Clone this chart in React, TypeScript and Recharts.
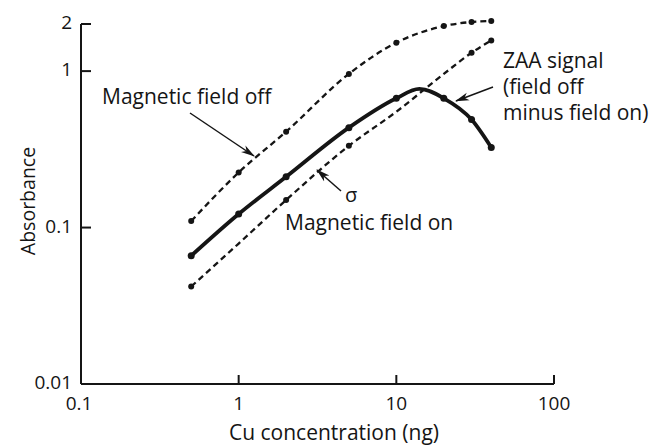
import React from 'react';
import { LineChart, Line, XAxis, YAxis, ReferenceLine } from 'recharts';

// Cu concentration (ng) at which the measurements were made
const concentrations = [0.5, 1, 2, 5, 10, 20, 30, 40];
// Absorbance, magnetic field off
const fieldOffAbs = [0.11, 0.225, 0.41, 0.96, 1.52, 1.94, 2.06, 2.09];
// Absorbance, magnetic field on
const fieldOnAbs = [0.042, 0.079, 0.15, 0.333, 0.55, 0.96, 1.31, 1.57];
// ZAA signal (field off minus field on), incl. the peak
const zaaConcentrations = [0.5, 1, 2, 5, 10, 14, 20, 30, 40];
const zaaAbs = [0.066, 0.122, 0.211, 0.435, 0.67, 0.77, 0.67, 0.49, 0.325];

const xTicks = [0.1, 1, 10, 100];
const yTicks = [0.01, 0.1, 1, 2];
const fieldOnHiddenMarkers = [1, 10, 20];

const fieldOffData = concentrations.map((x, i) => ({ x, y: fieldOffAbs[i] }));
const fieldOnData = concentrations.map((x, i) => ({ x, y: fieldOnAbs[i] }));
const zaaData = zaaConcentrations.map((x, i) => ({ x, y: zaaAbs[i] }));

const INK = '#151515';
const FONT = '"Open Sans", "DejaVu Sans", sans-serif';

const makeDot = (r: number, hidden: number[]) => (props: any) => {
  const { cx, cy, payload, index } = props;
  const show = concentrations.includes(payload.x) && !hidden.includes(payload.x);
  return <circle key={`dot-${index}`} cx={cx} cy={cy} r={show ? r : 0} fill={INK} />;
};

const YTick = (props: any) => {
  const { x, y, payload } = props;
  const v = payload.value;
  return (
    <g>
      {v !== 0.01 && <line x1={x} y1={y} x2={x + 10} y2={y} stroke={INK} strokeWidth={2} />}
      <text x={x - 9} y={y + 5} textAnchor="end" fontSize={19} fontFamily={FONT} fill={INK}>
        {String(v)}
      </text>
    </g>
  );
};

const XTick = (props: any) => {
  const { x, y, payload } = props;
  const v = payload.value;
  return (
    <g>
      {v !== 0.1 && <line x1={x} y1={y} x2={x} y2={y - 9} stroke={INK} strokeWidth={2} />}
      <text x={x - (v === 0.1 ? 2 : 0)} y={y + 26} textAnchor="middle" fontSize={19} fontFamily={FONT} fill={INK}>
        {String(v)}
      </text>
    </g>
  );
};

export default function App() {
  return (
    <div style={{ position: 'absolute', left: 0, top: 0, width: 654, height: 446, background: '#fff' }}>
      <LineChart
        width={654}
        height={446}
        margin={{ top: 20.7, right: 100, bottom: 2, left: 0 }}
        style={{ position: 'absolute', left: 0, top: 0 }}
      >
        <XAxis
          dataKey="x"
          type="number"
          scale="log"
          domain={[0.1, 100]}
          ticks={xTicks}
          height={60}
          tickSize={0}
          tickMargin={0}
          tickLine={false}
          axisLine={{ stroke: INK, strokeWidth: 2 }}
          tick={XTick}
          interval={0}
        />
        <YAxis
          type="number"
          scale="log"
          domain={[0.01, 2.1]}
          ticks={yTicks}
          width={81}
          tickSize={0}
          tickMargin={0}
          tickLine={false}
          axisLine={false}
          tick={YTick}
          interval={0}
        />
        <ReferenceLine
          segment={[{ x: 0.1, y: 0.01 }, { x: 0.1, y: 2 }]}
          stroke={INK}
          strokeWidth={2}
        />
        <Line
          data={fieldOffData}
          dataKey="y"
          type="monotone"
          stroke={INK}
          strokeWidth={2.3}
          strokeDasharray="6 4"
          dot={makeDot(3, [])}
          isAnimationActive={false}
        />
        <Line
          data={fieldOnData}
          dataKey="y"
          type="monotone"
          stroke={INK}
          strokeWidth={2.3}
          strokeDasharray="6 4"
          dot={makeDot(3, fieldOnHiddenMarkers)}
          isAnimationActive={false}
        />
        <Line
          data={zaaData}
          dataKey="y"
          type="monotone"
          stroke={INK}
          strokeWidth={3.8}
          dot={makeDot(3.5, [])}
          isAnimationActive={false}
        />
      </LineChart>
      <svg
        width={654}
        height={446}
        style={{ position: 'absolute', left: 0, top: 0, pointerEvents: 'none' }}
      >
        <defs>
          <marker id="ah" markerWidth="14" markerHeight="10" refX="13" refY="5" orient="auto" markerUnits="userSpaceOnUse">
            <path d="M0,1 L14,5 L0,9 L4,5 Z" fill={INK} />
          </marker>
        </defs>
        <g fontFamily={FONT} fill={INK}>
          <text x={35} y={201} fontSize={19.5} textAnchor="middle" transform="rotate(-90 35 201)">Absorbance</text>
          <text x={334} y={440} fontSize={21} textAnchor="middle">Cu concentration (ng)</text>
          <text x={102} y={104} fontSize={21}>Magnetic field off</text>
          <text x={503} y={68} fontSize={21}>ZAA signal</text>
          <text x={503} y={94} fontSize={21}>(field off</text>
          <text x={503} y={120} fontSize={21}>minus field on)</text>
          <text x={345} y={202} fontSize={20}>σ</text>
          <text x={285} y={230} fontSize={21}>Magnetic field on</text>
        </g>
        <line x1={341} y1={191} x2={317} y2={170} stroke={INK} strokeWidth={1.5} markerEnd="url(#ah)" />
        <line x1={190} y1={113} x2={254} y2={156} stroke={INK} strokeWidth={1.5} markerEnd="url(#ah)" />
        <line x1={493} y1={87} x2={456} y2={101} stroke={INK} strokeWidth={1.5} markerEnd="url(#ah)" />
      </svg>
    </div>
  );
}
